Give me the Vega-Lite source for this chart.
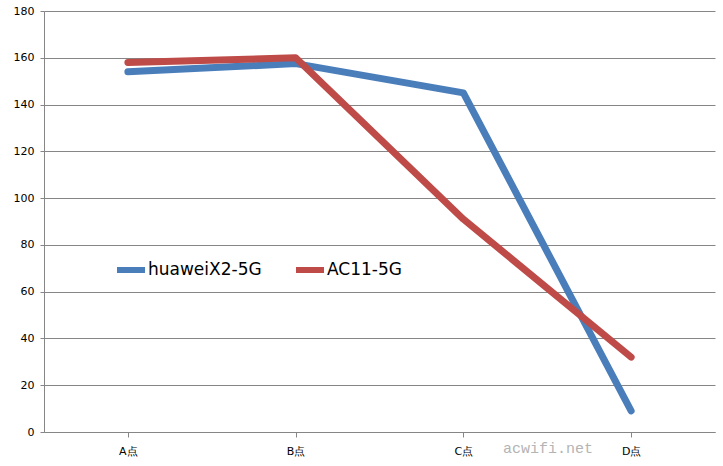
{
  "$schema": "https://vega.github.io/schema/vega-lite/v6.json",
  "width": 671,
  "height": 421,
  "autosize": "none",
  "padding": {"left": 44, "top": 11, "right": 8, "bottom": 34},
  "background": "white",
  "config": {
    "view": {"stroke": null},
    "font": "DejaVu Sans"
  },
  "title": {
    "text": "acwifi.net",
    "orient": "bottom",
    "anchor": "start",
    "dx": 490,
    "offset": -15,
    "font": "Liberation Mono",
    "fontSize": 15,
    "fontWeight": "normal",
    "color": "#b4b4b4"
  },
  "data": {
    "values": [
      {"point": "A点", "series": "huaweiX2-5G", "value": 154},
      {"point": "B点", "series": "huaweiX2-5G", "value": 157.5},
      {"point": "C点", "series": "huaweiX2-5G", "value": 145},
      {"point": "D点", "series": "huaweiX2-5G", "value": 9},
      {"point": "A点", "series": "AC11-5G", "value": 158},
      {"point": "B点", "series": "AC11-5G", "value": 160},
      {"point": "C点", "series": "AC11-5G", "value": 91},
      {"point": "D点", "series": "AC11-5G", "value": 32}
    ]
  },
  "mark": {"type": "line", "strokeWidth": 7, "strokeCap": "round", "strokeJoin": "round"},
  "encoding": {
    "x": {
      "field": "point",
      "type": "nominal",
      "sort": ["A点", "B点", "C点", "D点"],
      "scale": {"paddingInner": 0, "paddingOuter": 0},
      "axis": {
        "title": null,
        "labelAngle": 0,
        "labelFontSize": 11,
        "labelColor": "#000000",
        "labelPadding": 8,
        "bandPosition": 0,
        "tickSize": 5,
        "tickColor": "#868686",
        "domainColor": "#868686",
        "grid": false
      }
    },
    "y": {
      "field": "value",
      "type": "quantitative",
      "scale": {"domain": [0, 180], "nice": false},
      "axis": {
        "title": null,
        "values": [0, 20, 40, 60, 80, 100, 120, 140, 160, 180],
        "labelFontSize": 11,
        "labelColor": "#000000",
        "labelPadding": 6,
        "tickSize": 4,
        "tickColor": "#868686",
        "domainColor": "#868686",
        "gridColor": "#868686",
        "gridOpacity": 1
      }
    },
    "color": {
      "field": "series",
      "type": "nominal",
      "scale": {"domain": ["huaweiX2-5G", "AC11-5G"], "range": ["#4a7ebb", "#be4b48"]},
      "legend": {
        "title": null,
        "orient": "none",
        "legendX": 70,
        "legendY": 242,
        "direction": "horizontal",
        "symbolType": "stroke",
        "symbolSize": 784,
        "symbolStrokeWidth": 6,
        "labelFontSize": 17,
        "labelFont": "DejaVu Sans",
        "labelColor": "#000000",
        "labelOffset": 0,
        "columnPadding": 22
      }
    }
  }
}
